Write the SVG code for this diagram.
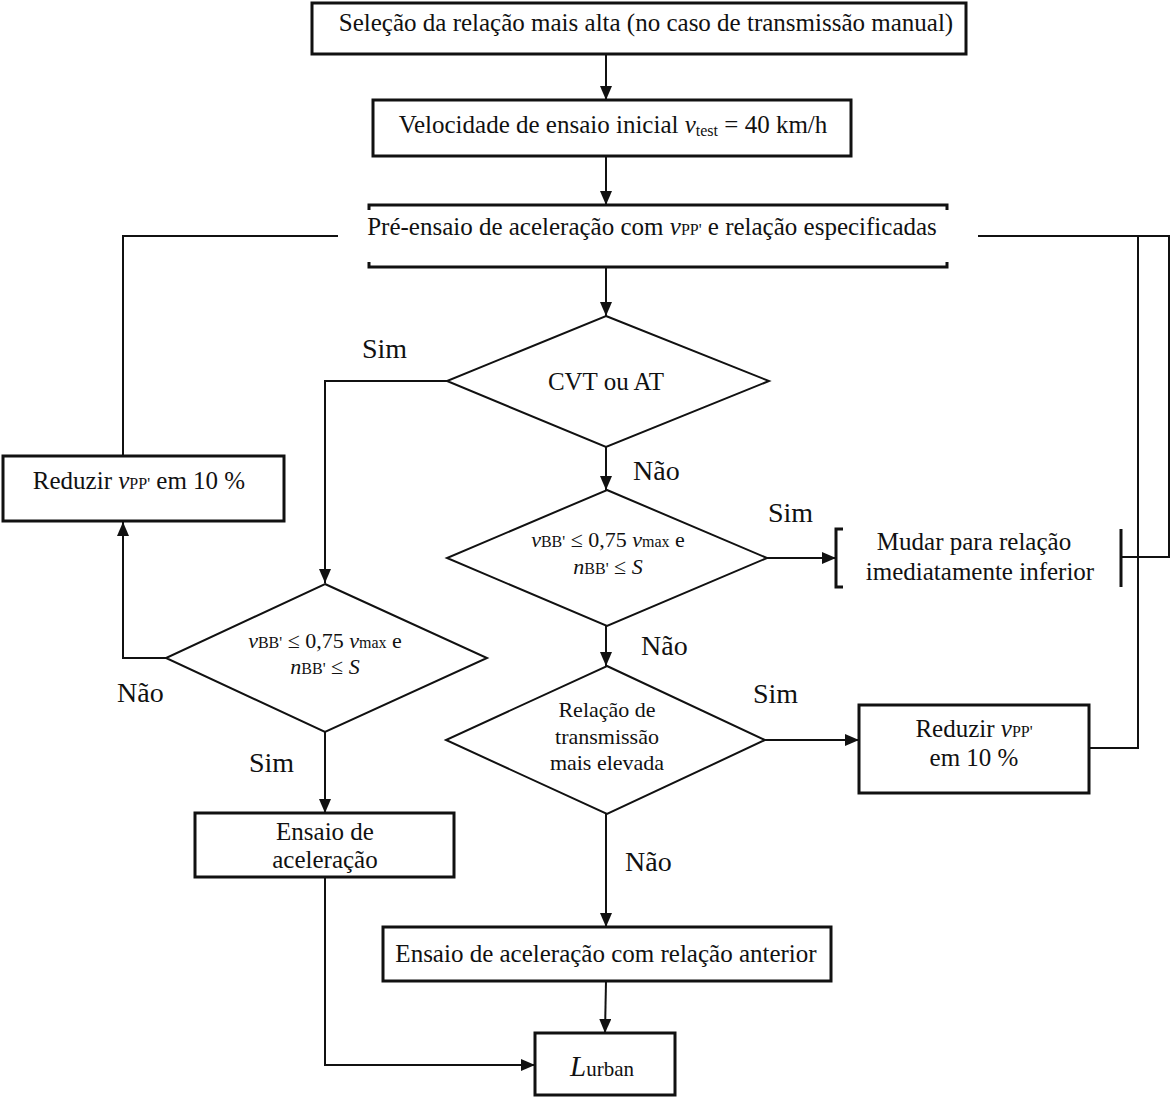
<svg xmlns="http://www.w3.org/2000/svg" width="1171" height="1097" viewBox="0 0 1171 1097">
<defs>
<marker id="arr" viewBox="0 0 14 12" refX="14" refY="6" markerWidth="14" markerHeight="12" markerUnits="userSpaceOnUse" orient="auto">
<path d="M0,0 L14,6 L0,12 z" fill="#111"/>
</marker>
<style>
text{font-family:"Liberation Serif","Times New Roman",serif;fill:#111;}
.t{font-size:25px;text-anchor:middle;}
.d{font-size:22px;text-anchor:middle;}
.lab{font-size:28px;}
.box{fill:#fff;stroke:#111;stroke-width:3;}
.dia{fill:#fff;stroke:#111;stroke-width:2;}
.ln{fill:none;stroke:#111;stroke-width:2;}
.br{fill:none;stroke:#111;stroke-width:3;}
.i{font-style:italic;}
.s{font-size:16px;}
</style>
</defs>
<rect width="1171" height="1097" fill="#fff"/>
<g id="connectors">
<line class="ln" x1="606" y1="54" x2="606" y2="100" marker-end="url(#arr)"/>
<line class="ln" x1="606" y1="156" x2="606" y2="205" marker-end="url(#arr)"/>
<line class="ln" x1="606" y1="267" x2="606" y2="316" marker-end="url(#arr)"/>
<line class="ln" x1="606" y1="447" x2="606" y2="490" marker-end="url(#arr)"/>
<line class="ln" x1="606" y1="626" x2="606" y2="666" marker-end="url(#arr)"/>
<line class="ln" x1="606" y1="814" x2="606" y2="927" marker-end="url(#arr)"/>
<line class="ln" x1="606" y1="981" x2="605" y2="1033" marker-end="url(#arr)"/>
<polyline class="ln" points="447,381 325,381 325,583" marker-end="url(#arr)"/>
<line class="ln" x1="325" y1="732" x2="325" y2="813" marker-end="url(#arr)"/>
<polyline class="ln" points="325,877 325,1065 535,1065" marker-end="url(#arr)"/>
<polyline class="ln" points="166,658 123,658 123,522" marker-end="url(#arr)"/>
<polyline class="ln" points="123,456 123,236 338,236"/>
<line class="ln" x1="767" y1="558" x2="836" y2="558" marker-end="url(#arr)"/>
<line class="ln" x1="765" y1="740" x2="859" y2="740" marker-end="url(#arr)"/>
<polyline class="ln" points="1121,557 1169,557 1169,236 978,236"/>
<polyline class="ln" points="1089,748 1138,748 1138,236"/>
</g>
<g id="n1">
<rect class="box" x="312" y="3" width="654" height="51"/>
<text class="t" x="646" y="31">Seleção da relação mais alta (no caso de transmissão manual)</text>
</g>
<g id="n2">
<rect class="box" x="373" y="100" width="478" height="56"/>
<text class="t" x="613" y="133">Velocidade de ensaio inicial <tspan class="i">v</tspan><tspan class="s" dy="3">test</tspan><tspan dy="-3"> = 40 km/h</tspan></text>
</g>
<g id="n3">
<path class="br" d="M369,210 V205 H947 V210"/>
<path class="br" d="M369,262 V267 H947 V262"/>
<text class="t" x="652" y="235">Pré-ensaio de aceleração com <tspan class="i">v</tspan><tspan class="s">PP'</tspan>  e relação especificadas</text>
</g>
<g id="n4">
<polygon class="dia" points="606,316 769,381 606,447 447,381"/>
<text class="t" x="606" y="390">CVT ou AT</text>
</g>
<g id="n5">
<polygon class="dia" points="607,490 767,558 607,626 447,558"/>
<text class="d" x="608" y="547"><tspan class="i">v</tspan><tspan class="s">BB'</tspan> ≤ 0,75 <tspan class="i">v</tspan><tspan class="s">max</tspan> e</text>
<text class="d" x="608" y="574"><tspan class="i">n</tspan><tspan class="s">BB'</tspan> ≤ <tspan class="i">S</tspan></text>
</g>
<g id="n6">
<path class="br" d="M843,529 H836 V587 H843"/>
<line class="br" x1="1121" y1="529" x2="1121" y2="587"/>
<text class="t" x="974" y="550">Mudar para relação</text>
<text class="t" x="980" y="580">imediatamente inferior</text>
</g>
<g id="n7">
<polygon class="dia" points="607,666 765,740 607,814 446,740"/>
<text class="d" x="607" y="717">Relação de</text>
<text class="d" x="607" y="744">transmissão</text>
<text class="d" x="607" y="770">mais elevada</text>
</g>
<g id="n8">
<rect class="box" x="859" y="705" width="230" height="88"/>
<text class="t" x="974" y="737">Reduzir <tspan class="i">v</tspan><tspan class="s">PP'</tspan></text>
<text class="t" x="974" y="766">em 10 %</text>
</g>
<g id="n9">
<polygon class="dia" points="325,584 487,658 325,732 166,658"/>
<text class="d" x="325" y="648"><tspan class="i">v</tspan><tspan class="s">BB'</tspan> ≤ 0,75 <tspan class="i">v</tspan><tspan class="s">max</tspan> e</text>
<text class="d" x="325" y="674"><tspan class="i">n</tspan><tspan class="s">BB'</tspan> ≤ <tspan class="i">S</tspan></text>
</g>
<g id="n10">
<rect class="box" x="3" y="456" width="281" height="65"/>
<text class="t" x="139" y="489">Reduzir <tspan class="i">v</tspan><tspan class="s">PP'</tspan> em 10 %</text>
</g>
<g id="n11">
<rect class="box" x="195" y="813" width="259" height="64"/>
<text class="t" x="325" y="840">Ensaio de</text>
<text class="t" x="325" y="868">aceleração</text>
</g>
<g id="n12">
<rect class="box" x="383" y="927" width="448" height="54"/>
<text class="t" x="606" y="962">Ensaio de aceleração com relação anterior</text>
</g>
<g id="n13">
<rect class="box" x="535" y="1033" width="140" height="62"/>
<text x="602" y="1076" style="font-size:29px;text-anchor:middle"><tspan class="i">L</tspan><tspan style="font-size:21px">urban</tspan></text>
</g>
<g id="labels">
<text class="lab" x="362" y="358">Sim</text>
<text class="lab" x="633" y="480">Não</text>
<text class="lab" x="768" y="522">Sim</text>
<text class="lab" x="641" y="655">Não</text>
<text class="lab" x="753" y="703">Sim</text>
<text class="lab" x="117" y="702">Não</text>
<text class="lab" x="249" y="772">Sim</text>
<text class="lab" x="625" y="871">Não</text>
</g>
</svg>
